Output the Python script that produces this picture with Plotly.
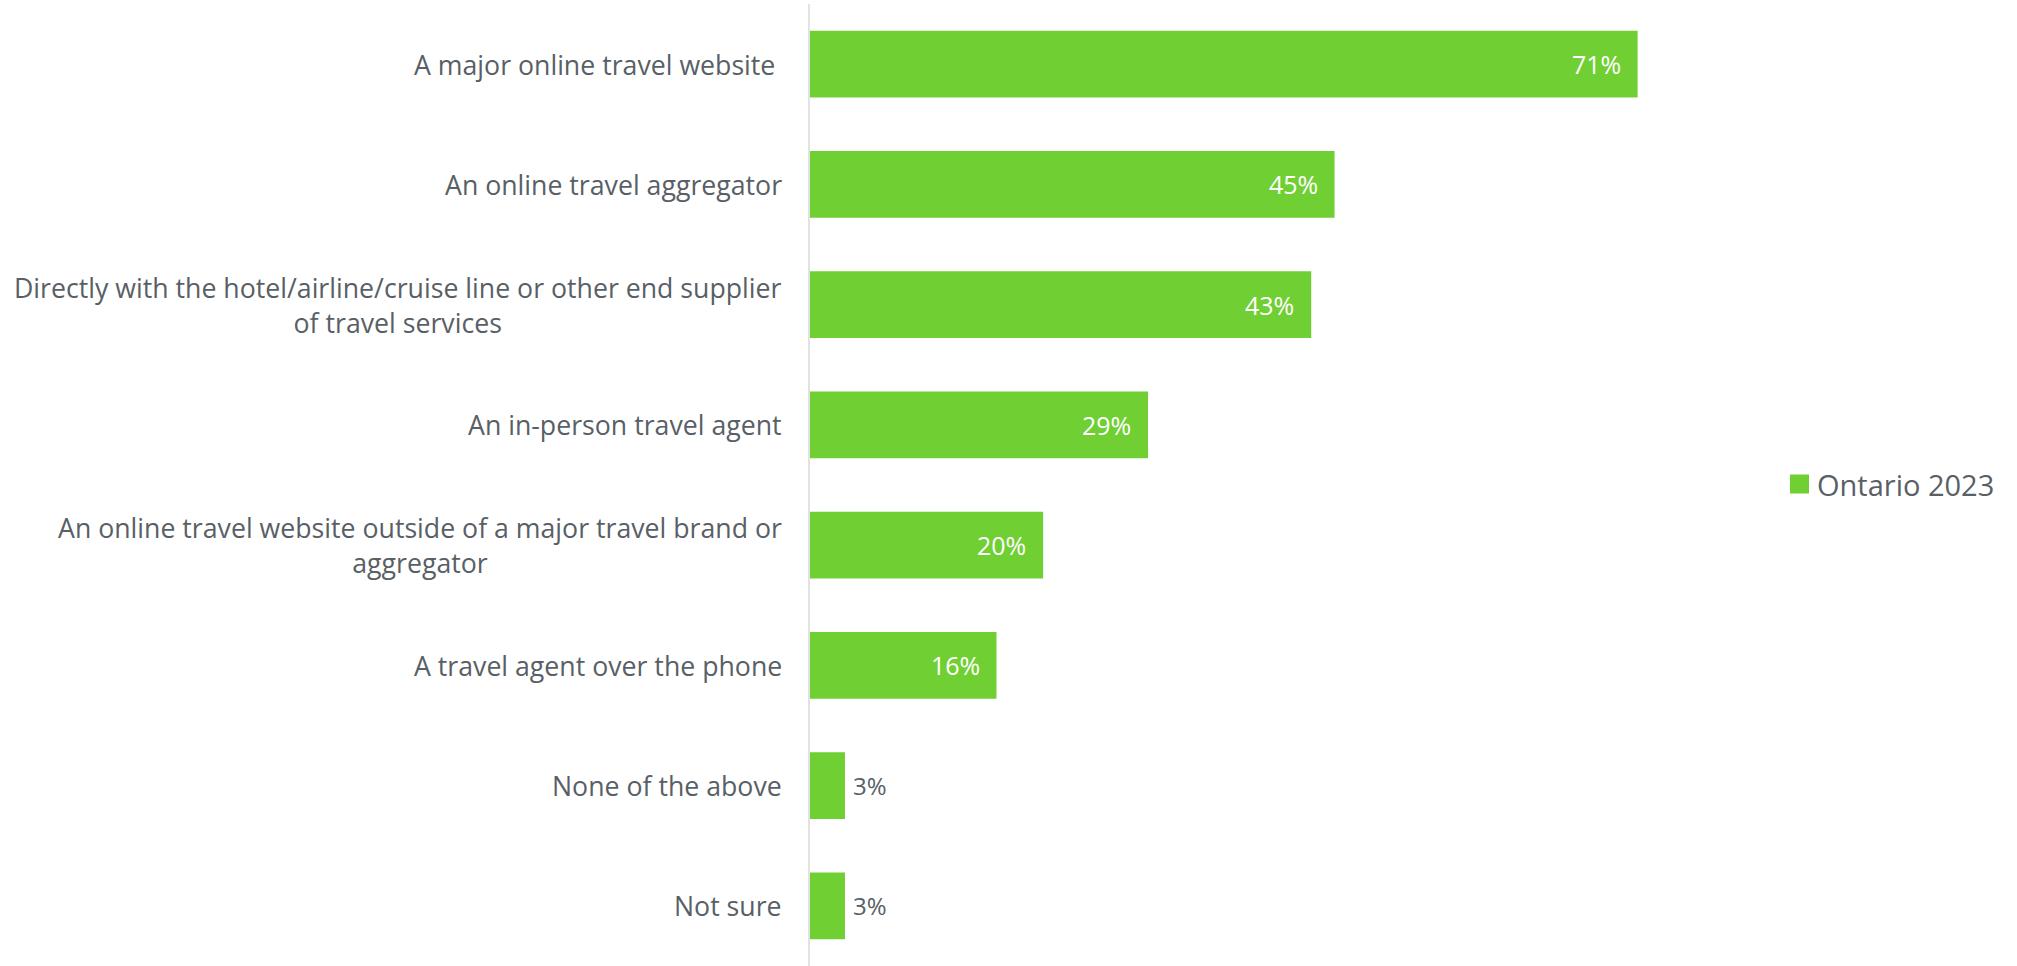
import plotly.graph_objects as go

# Survey responses: where travel was booked (Ontario, 2023)
categories = [
    "A major online travel website\u00a0",
    "An online travel aggregator",
    "Directly with the hotel/airline/cruise line or other end supplier<br>of travel services",
    "An in-person travel agent",
    "An online travel website outside of a major travel brand or<br>aggregator",
    "A travel agent over the phone",
    "None of the above",
    "Not sure",
]
values = [71, 45, 43, 29, 20, 16, 3, 3]
series_name = "Ontario 2023"

GREEN = "#70cf33"
GRAY = "#595f66"
FONT = "Open Sans"

X_MAX = 81.5
PLOT_W = 2017 - 810 - 257
PLOT_H = 966 - 4

fig = go.Figure()
fig.add_trace(go.Bar(
    y=list(range(len(categories))),
    x=values,
    orientation="h",
    name=series_name,
    marker=dict(color=GREEN, line=dict(width=0)),
    width=0.557,
    hoverinfo="skip",
    showlegend=False,
))

# category labels, centred multi-line blocks to the left of the axis
for i, cat in enumerate(categories):
    fig.add_annotation(
        x=0, xref="paper", y=i, yref="y",
        text=cat, showarrow=False,
        xanchor="right", yanchor="middle", align="center",
        xshift=-26,
        font=dict(family=FONT, size=26.7, color=GRAY),
    )

# value labels: inside the bar (white) when it is wide enough, otherwise just after it
for i, v in enumerate(values):
    inside = v >= 10
    fig.add_annotation(
        x=v, xref="x", y=i, yref="y",
        text=f"{v}%", showarrow=False,
        xanchor="right" if inside else "left", yanchor="middle",
        xshift=-15 if inside else 6,
        font=dict(family=FONT, size=25 if inside else 24,
                  color="white" if inside else GRAY),
    )

# series key to the right of the plot: swatch + name (paper units, offsets from plot's left edge)
key_x0 = 980 / PLOT_W
key_x1 = 999 / PLOT_W
key_yc = (966 - 484) / PLOT_H
key_half = 9.5 / PLOT_H
fig.add_shape(
    type="rect", xref="paper", yref="paper",
    x0=key_x0, x1=key_x1, y0=key_yc - key_half, y1=key_yc + key_half,
    fillcolor=GREEN, line=dict(width=0),
)
fig.add_annotation(
    x=1005 / PLOT_W, xref="paper", y=key_yc, yref="paper",
    text=series_name, showarrow=False,
    xanchor="left", yanchor="middle",
    font=dict(family=FONT, size=29, color=GRAY),
)

fig.update_layout(
    width=2017, height=966,
    margin=dict(l=810, r=257, t=4, b=0),
    paper_bgcolor="white", plot_bgcolor="white",
    font=dict(family=FONT, color=GRAY),
    showlegend=False,
    xaxis=dict(range=[0, X_MAX], visible=False, fixedrange=True),
    yaxis=dict(
        range=[len(categories) - 0.5, -0.5],
        showticklabels=False, showgrid=False, zeroline=False, ticks="",
        showline=True, linecolor="#e2e2e2", linewidth=2,
        fixedrange=True,
    ),
)

fig.write_html("out.html")
